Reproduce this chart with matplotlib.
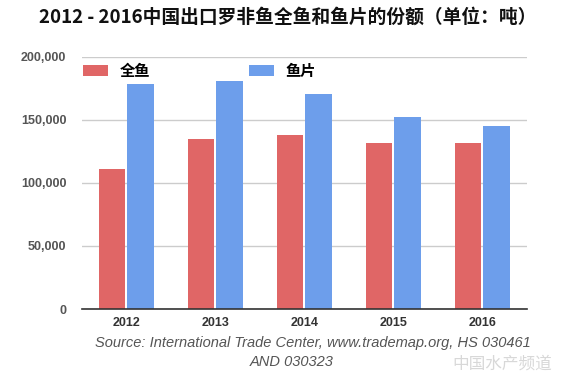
import matplotlib.pyplot as plt
import numpy as np

years = ['2012', '2013', '2014', '2015', '2016']
whole_fish = [110800, 134700, 138300, 132000, 132000]
fillets = [178900, 181200, 170400, 152600, 145500]
y_ticks = [0, 50000, 100000, 150000, 200000]
y_labels = ['0', '50,000', '100,000', '150,000', '200,000']

cjk = ['Noto Sans CJK SC', 'DejaVu Sans']
plt.rcParams['font.family'] = cjk

fig = plt.figure(figsize=(5.84, 3.75), dpi=100)
ax = fig.add_axes([0.140, 0.176, 0.762, 0.672])

x = np.arange(len(years))
w = 0.30
ax.bar(x - 0.16, whole_fish, w, color='#e06666', label='全鱼', zorder=3)
ax.bar(x + 0.16, fillets, w, color='#6d9eeb', label='鱼片', zorder=3)

ax.set_xlim(-0.5, len(years) - 0.5)
ax.set_ylim(0, 200000)
ax.set_yticks(y_ticks)
ax.set_yticklabels(y_labels, fontsize=9, fontweight='bold', color='#555555',
                   family=['Liberation Sans', 'DejaVu Sans'])
ax.set_xticks(x)
ax.set_xticklabels(years, fontsize=9, fontweight='bold', color='#333333',
                   family=['Liberation Sans', 'DejaVu Sans'])
ax.tick_params(axis='both', length=0)
ax.tick_params(axis='y', pad=11)
ax.tick_params(axis='x', pad=6)
ax.grid(axis='y', color='#cccccc', linewidth=1, zorder=0)
for s in ['top', 'right', 'left']:
    ax.spines[s].set_visible(False)
ax.spines['bottom'].set_color('#333333')
ax.spines['bottom'].set_linewidth(1.2)
ax.spines['bottom'].set_zorder(4)

leg = ax.legend(loc='upper left', bbox_to_anchor=(0.002, 0.978), ncol=2, frameon=False,
                prop={'family': cjk, 'size': 11, 'weight': 'bold'},
                handlelength=1.65, handleheight=0.75, handletextpad=0.75,
                columnspacing=6.5, borderpad=0, borderaxespad=0)

fig.text(0.492, 0.955, '2012 - 2016中国出口罗非鱼全鱼和鱼片的份额（单位：吨）',
         ha='center', va='center', fontsize=13.5, fontweight='bold', color='#111111')

src_font = ['Liberation Sans', 'DejaVu Sans']
fig.text(0.535, 0.085, 'Source: International Trade Center, www.trademap.org, HS 030461',
         ha='center', va='center', fontsize=10.5, style='italic', color='#555555', family=src_font)
fig.text(0.50, 0.035, 'AND 030323',
         ha='center', va='center', fontsize=10.5, style='italic', color='#555555', family=src_font)

# faint watermark, kept clear of the source line
fig.text(0.86, 0.028, '中国水产频道', ha='center', va='center', fontsize=12,
         color='#d8d8d8', family=cjk)

fig.savefig('out.png', dpi=100)
